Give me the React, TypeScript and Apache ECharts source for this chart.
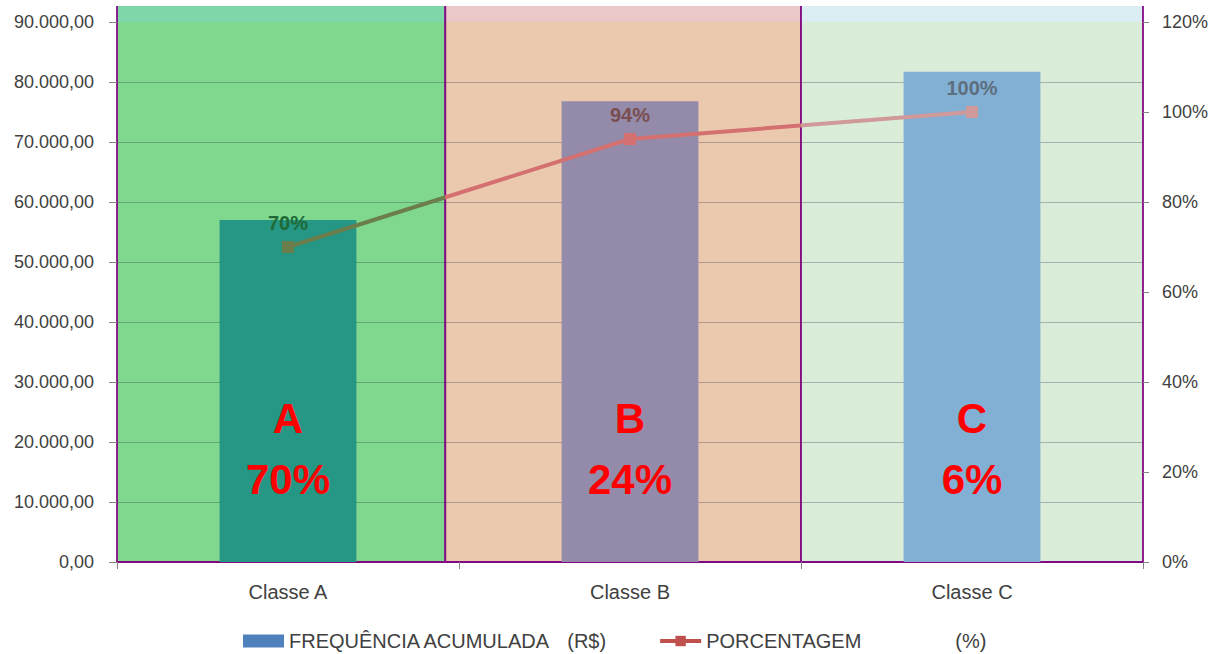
import React, { useEffect, useRef } from "react";
import * as echarts from "echarts";

// ---- data ----
const categories = ["Classe A", "Classe B", "Classe C"];
const cumulativeValues = [57000, 76800, 81700];
const cumulativePercent = [70, 94, 100];
const classLetters = ["A", "B", "C"];
const classShares = ["70%", "24%", "6%"];
const leftTicksMax = 90000;
const leftInterval = 10000;
const rightMax = 120;
const rightInterval = 20;
// band edges in category units (A | B | C)
const bandEdges = [-0.5, 0.46, 1.5, 2.5];
// value positions (left axis) of the big class labels
const letterLevel = 24000;
const shareLevel = 13800;

const FONT = "'Liberation Sans', Arial, sans-serif";

const barColors = ["#269685", "#948BAA", "#82AFD4"];
const bandColors = ["#80D88E", "#EBC9AE", "#DAEDD8"];
const bandTopColors = ["#7FD6A8", "#EBC8C8", "#DAEDF3"];
const lineColors = ["#6B7D4B", "#D47070", "#D09A9A"];
const lineLabelColors = ["#1E6A36", "#7A4E50", "#5D6F7E"];

const fmtBR = (v: number) =>
  Math.round(v)
    .toString()
    .replace(/\B(?=(\d{3})+(?!\d))/g, ".") + ",00";

export default function App() {
  const ref = useRef<HTMLDivElement>(null);
  useEffect(() => {
    document.body.style.margin = "0";
    const chart = echarts.init(ref.current!, null, { renderer: "svg" });
    const bandData = categories.map((_, i) => [bandEdges[i], bandEdges[i + 1], i]);
    const option: any = {
      animation: false,
      backgroundColor: "#ffffff",
      grid: { left: 117, right: 76, top: 22, bottom: 92 },
      legend: {
        left: 238,
        top: 626,
        selectedMode: false,
        itemWidth: 41,
        itemHeight: 13,
        itemGap: 52,
        textStyle: {
          fontSize: 20,
          color: "#404040",
          fontFamily: FONT,
          rich: {
            g1: { width: 16, fontSize: 20 },
            g2: { width: 94, fontSize: 20 },
          },
        },
        formatter: (name: string) =>
          name.startsWith("FREQ")
            ? "FREQUÊNCIA ACUMULADA{g1| }(R$)"
            : "PORCENTAGEM{g2| }(%)",
        data: [
          { name: "FREQUÊNCIA ACUMULADA (R$)", icon: "rect", itemStyle: { color: "#4F81BD" } },
          {
            name: "PORCENTAGEM (%)",
            itemStyle: { color: "#C0504D" },
            lineStyle: { color: "#C0504D", width: 4 },
          },
        ],
      },
      xAxis: [
        {
          type: "category",
          data: categories,
          z: 1,
          axisLine: { show: true, onZero: false, lineStyle: { color: "#850A85", width: 1.5 } },
          axisTick: { show: true, length: 7, lineStyle: { color: "#868686" } },
          axisLabel: { color: "#404040", fontSize: 20, fontFamily: FONT, margin: 20 },
        },
        { type: "value", min: -0.5, max: 2.5, show: false, axisLine: { onZero: false } },
      ],
      yAxis: [
        {
          type: "value",
          min: 0,
          max: leftTicksMax,
          interval: leftInterval,
          z: 1,
          position: "left",
          axisLine: { show: false, onZero: false },
          axisTick: { show: true, length: 8, lineStyle: { color: "#868686" } },
          axisLabel: {
            color: "#404040",
            fontSize: 18,
            fontFamily: FONT,
            margin: 23,
            formatter: fmtBR,
          },
          splitLine: { show: true, showMaxLine: false, lineStyle: { color: "rgba(40,40,70,0.3)", width: 1.2 } },
        },
        {
          type: "value",
          min: 0,
          max: rightMax,
          interval: rightInterval,
          z: 1,
          position: "right",
          axisLine: { show: false, onZero: false },
          axisTick: { show: true, length: 6, lineStyle: { color: "#868686" } },
          axisLabel: {
            color: "#404040",
            fontSize: 18,
            fontFamily: FONT,
            margin: 19,
            formatter: "{value}%",
          },
          splitLine: { show: false },
        },
      ],
      visualMap: {
        type: "piecewise",
        show: false,
        seriesIndex: 2,
        dimension: 0,
        pieces: [
          { min: bandEdges[0], max: bandEdges[1], color: lineColors[0] },
          { gt: bandEdges[1], lte: bandEdges[2], color: lineColors[1] },
          { gt: bandEdges[2], lte: bandEdges[3], color: lineColors[2] },
        ],
      },
      series: [
        {
          type: "custom",
          name: "bands",
          xAxisIndex: 1,
          yAxisIndex: 0,
          z: 0,
          silent: true,
          data: bandData,
          renderItem: (_p: any, api: any) => {
            const i = api.value(2);
            const p0 = api.coord([api.value(0), 0]);
            const p1 = api.coord([api.value(1), leftTicksMax]);
            const left = p0[0];
            const right = p1[0];
            const bottom = p0[1];
            const top = p1[1];
            const strip = 16;
            return {
              type: "group",
              children: [
                {
                  type: "rect",
                  shape: { x: left, y: top, width: right - left, height: bottom - top },
                  style: { fill: bandColors[i] },
                },
                {
                  type: "rect",
                  shape: { x: left, y: top - strip, width: right - left, height: strip },
                  style: { fill: bandTopColors[i] },
                },
                {
                  type: "polyline",
                  shape: {
                    points: [
                      [left, top - strip],
                      [left, bottom],
                      [right, bottom],
                      [right, top - strip],
                    ],
                  },
                  style: { stroke: "#850A85", lineWidth: 1.8, fill: null },
                },
              ],
            };
          },
        },
        {
          type: "bar",
          name: "FREQUÊNCIA ACUMULADA (R$)",
          xAxisIndex: 0,
          yAxisIndex: 0,
          barWidth: "40%",
          z: 2,
          itemStyle: { color: "#4F81BD" },
          data: cumulativeValues.map((v, i) => ({ value: v, itemStyle: { color: barColors[i] } })),
        },
        {
          type: "line",
          name: "PORCENTAGEM (%)",
          xAxisIndex: 1,
          yAxisIndex: 1,
          z: 3,
          symbol: "rect",
          symbolSize: 12,
          lineStyle: { width: 4 },
          label: {
            show: true,
            position: "top",
            distance: 8,
            fontSize: 20,
            fontWeight: "bold",
            fontFamily: FONT,
            formatter: (p: any) => p.value[1] + "%",
          },
          data: cumulativePercent.map((v, i) => ({
            value: [i, v],
            label: { color: lineLabelColors[i] },
          })),
        },
        {
          type: "custom",
          name: "classLabels",
          xAxisIndex: 1,
          yAxisIndex: 0,
          z: 5,
          silent: true,
          data: classLetters.map((_, i) => [i, letterLevel]),
          renderItem: (_p: any, api: any) => {
            const i = api.value(0);
            const a = api.coord([i, letterLevel]);
            const b = api.coord([i, shareLevel]);
            const mk = (text: string, pt: number[]) => ({
              type: "text",
              style: {
                text,
                x: pt[0],
                y: pt[1],
                fill: "#FF0000",
                font: `bold 42px ${FONT}`,
                align: "center",
                verticalAlign: "middle",
                textAlign: "center",
                textVerticalAlign: "middle",
              },
            });
            return {
              type: "group",
              children: [mk(classLetters[i], a), mk(classShares[i], b)],
            };
          },
        },
      ],
    };
    chart.setOption(option);
    return () => chart.dispose();
  }, []);
  return <div ref={ref} style={{ width: 1219, height: 654 }} />;
}
